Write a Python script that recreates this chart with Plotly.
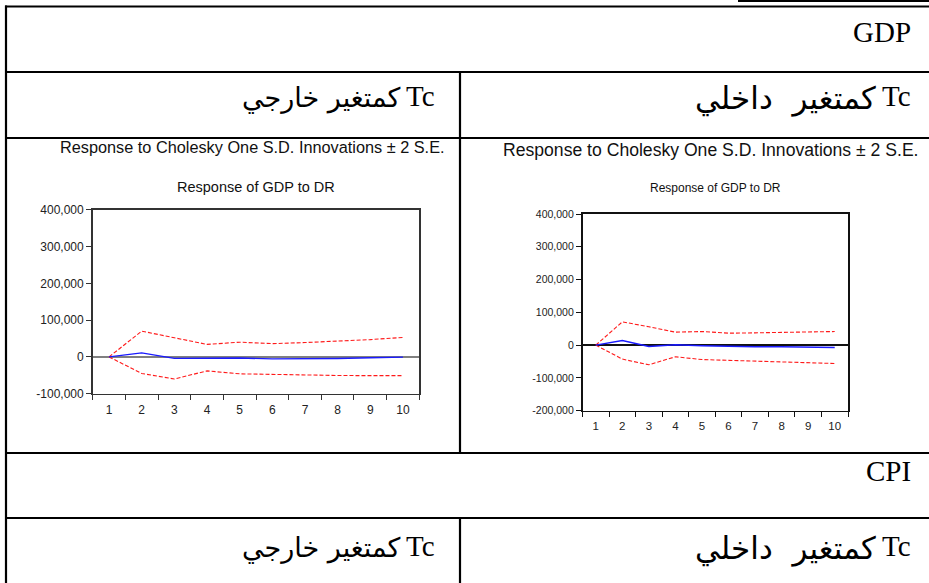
import plotly.graph_objects as go

W, H = 929, 583

# ---------------- data ----------------
periods = list(range(1, 11))
period_labels = [str(p) for p in periods]

# Response of GDP to DR, Tc treated as an exogenous variable
ext_response = [0, 11000, -4000, -2500, -3000, -5500, -6000, -4500, -2500, -500]
ext_upper = [0, 70000, 52000, 34000, 40000, 36000, 39000, 42500, 47000, 53000]
ext_lower = [0, -45000, -60000, -38000, -46000, -48000, -50000, -50500, -51000, -51000]

# Response of GDP to DR, Tc treated as an endogenous variable
endo_response = [0, 14000, -4000, 1000, -2000, -4000, -5000, -5000, -6000, -7000]
endo_upper = [0, 71000, 56000, 39500, 41500, 36500, 37500, 39500, 40500, 41500]
endo_lower = [0, -42500, -60000, -35500, -44000, -46000, -48000, -50000, -53000, -56000]

ext_yticks = [-100000, 0, 100000, 200000, 300000, 400000]
ext_ylabels = ["-100,000", "0", "100,000", "200,000", "300,000", "400,000"]
endo_yticks = [-200000, -100000, 0, 100000, 200000, 300000, 400000]
endo_ylabels = ["-200,000", "-100,000", "0", "100,000", "200,000", "300,000", "400,000"]

chart_title = "Response to Cholesky One S.D. Innovations ± 2 S.E."
chart_subtitle = "Response of GDP to DR"

row_headers = ["GDP", "CPI"]
exo_label = "كمتغير خارجي"
endo_label = "كمتغير\u00a0\u00a0داخلي"
var_label = "Tc"

# ---------------- helpers ----------------
def fx(x):
    return x / W


def fy(y):
    return 1 - y / H


SANS = "Liberation Sans, Arial, sans-serif"
SERIF = "Liberation Serif, Times New Roman, serif"
ARABIC = "DejaVu Sans, sans-serif"

fig = go.Figure()

BLUE = "#1a1aff"
RED = "#ff1a1a"

for xa, ya, resp, up, lo in [
    ("x", "y", ext_response, ext_upper, ext_lower),
    ("x2", "y2", endo_response, endo_upper, endo_lower),
]:
    for band in (up, lo):
        fig.add_trace(go.Scatter(
            x=periods, y=band, xaxis=xa, yaxis=ya, mode="lines",
            line=dict(color=RED, width=1.1, dash="4px,2px"),
            hoverinfo="skip", showlegend=False))
    fig.add_trace(go.Scatter(
        x=periods, y=resp, xaxis=xa, yaxis=ya, mode="lines",
        line=dict(color=BLUE, width=1.4),
        hoverinfo="skip", showlegend=False))

boundaries = [p - 0.5 for p in periods] + [periods[-1] + 0.5]


def x_axis(dom, anchor, font, frame, standoff):
    return dict(
        domain=dom, anchor=anchor, range=[boundaries[0], boundaries[-1]],
        tickmode="array", tickvals=periods, ticktext=period_labels, ticks="",
        ticklabelstandoff=standoff, tickfont=font,
        showline=True, linecolor=frame, linewidth=1.6, mirror=True,
        showgrid=False, zeroline=False, fixedrange=True, automargin=False,
        minor=dict(tickmode="array", tickvals=boundaries, ticks="outside",
                   ticklen=5, tickcolor=frame, tickwidth=1, showgrid=False),
    )


def y_axis(dom, anchor, rng, vals, labels, font, frame, zcolor):
    return dict(
        domain=dom, anchor=anchor, range=rng,
        tickmode="array", tickvals=vals, ticktext=labels,
        ticks="outside", ticklen=5, tickcolor=frame, tickwidth=1, tickfont=font,
        showline=True, linecolor=frame, linewidth=1.6, mirror=True,
        showgrid=False, zeroline=True, zerolinecolor=zcolor, zerolinewidth=1.5,
        fixedrange=True, automargin=False,
    )


left_font = dict(family=SANS, size=12, color="#222")
right_font = dict(family=SANS, size=10.5, color="#222")

fig.update_layout(
    width=W, height=H, autosize=False,
    margin=dict(l=0, r=0, t=0, b=0, pad=0, autoexpand=False),
    paper_bgcolor="white", plot_bgcolor="white",
    showlegend=False,
    xaxis=x_axis([fx(92.7), fx(419.3)], "y", left_font, "#333", 4),
    yaxis=y_axis([fy(393.7), fy(209.7)], "x", [-100000, 400000],
                 ext_yticks, ext_ylabels, left_font, "#333", "#808080"),
    xaxis2=x_axis([fx(582.5), fx(848)], "y2", dict(family=SANS, size=11.5, color="#222"), "#111", 4),
    yaxis2=y_axis([fy(410.7), fy(214)], "x2", [-200000, 400000],
                  endo_yticks, endo_ylabels, right_font, "#111", "#111"),
)

ann = []


def text(x, y, s, family, size, xanchor="center", color="#111"):
    ann.append(dict(x=fx(x), y=fy(y), xref="paper", yref="paper", text=s,
                    showarrow=False, xanchor=xanchor, yanchor="middle",
                    font=dict(family=family, size=size, color=color)))


# chart headings
text(252.5, 147, chart_title, SANS, 16.3)
text(256, 187, chart_subtitle, SANS, 14.5)
text(711, 150, chart_title, SANS, 17.6)
text(715, 188, chart_subtitle, SANS, 12)

# table captions
text(913, 32, row_headers[0], SERIF, 29, "right", "#000")
text(913, 471, row_headers[1], SERIF, 29, "right", "#000")
for yc in (96, 546):
    text(437, yc, var_label, SERIF, 29, "right", "#000")
    text(403, yc + 2, exo_label, ARABIC, 27, "right", "#000")
    text(913, yc, var_label, SERIF, 29, "right", "#000")
    text(878, yc + 2, endo_label, ARABIC, 31, "right", "#000")

fig.update_layout(annotations=ann)

# table rules
shapes = []


def rule(x0, y0, x1, y1, w=2.2):
    shapes.append(dict(type="line", xref="paper", yref="paper",
                       x0=fx(x0), y0=fy(y0), x1=fx(x1), y1=fy(y1),
                       line=dict(color="#000", width=w)))


rule(738, 1, W + 2, 1)
rule(5, 6.5, W + 2, 6.5)
rule(6, 5.5, 6, H + 2)
for yy in (72, 138, 453, 518):
    rule(5, yy, W + 2, yy)
rule(460, 72, 460, 453)
rule(460, 518, 460, H + 2)

fig.update_layout(shapes=shapes)

fig.write_html("out.html", config={"displayModeBar": False, "staticPlot": True})
